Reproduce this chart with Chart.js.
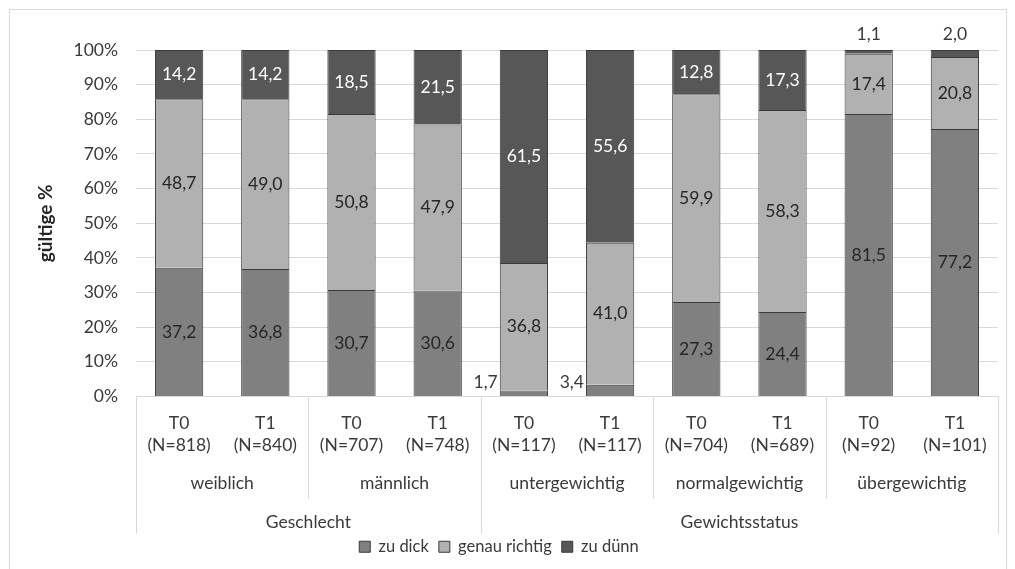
<!DOCTYPE html>
<html>
<head>
<meta charset="utf-8">
<script src="https://cdn.jsdelivr.net/npm/chart.js@4.4.1/dist/chart.umd.min.js"></script>
<style>
    html, body { margin: 0; padding: 0; background: #fff; }
    canvas { display: block; }
</style>
</head>
<body>
<canvas id="chart" width="1015" height="569"></canvas>
<script>
// Kategorien (unterste Achsenebene)
const zeitpunkte = [
    ['T0', '(N=818)'], ['T1', '(N=840)'],
    ['T0', '(N=707)'], ['T1', '(N=748)'],
    ['T0', '(N=117)'], ['T1', '(N=117)'],
    ['T0', '(N=704)'], ['T1', '(N=689)'],
    ['T0', '(N=92)'], ['T1', '(N=101)'],
];
const gruppen = ['weiblich', 'männlich', 'untergewichtig', 'normalgewichtig', 'übergewichtig'];
const oberGruppen = ['Geschlecht', 'Gewichtsstatus'];
const oberGruppenGroesse = [2, 3];

// Werte in gültigen %
const zuDick = [37.2, 36.8, 30.7, 30.6, 1.7, 3.4, 27.3, 24.4, 81.5, 77.2];
const genauRichtig = [48.7, 49.0, 50.8, 47.9, 36.8, 41.0, 59.9, 58.3, 17.4, 20.8];
const zuDuenn = [14.2, 14.2, 18.5, 21.5, 61.5, 55.6, 12.8, 17.3, 1.1, 2.0];

const serien = [
    { label: 'zu dick', werte: zuDick, farbe: '#808080', text: '#262626' },
    { label: 'genau richtig', werte: genauRichtig, farbe: '#b1b1b1', text: '#262626' },
    { label: 'zu dünn', werte: zuDuenn, farbe: '#575757', text: '#ffffff' },
];

// 100%-Stapel wie in Excel
const summen = zuDick.map((v, i) => v + genauRichtig[i] + zuDuenn[i]);

const schrift = 'Lato, "Noto Sans", sans-serif';
Chart.defaults.font.family = schrift;
Chart.defaults.font.size = 17.5;
Chart.defaults.color = '#3a3a3a';

const rahmen = {
    id: 'rahmen',
    beforeDraw(chart) {
        const { ctx } = chart;
        ctx.save();
        ctx.fillStyle = '#fff';
        ctx.fillRect(0, 0, chart.width, chart.height);
        ctx.strokeStyle = '#d9d9d9';
        ctx.lineWidth = 1;
        ctx.strokeRect(9.5, 9.5, 997, 600);
        ctx.restore();
    },
};

const werteBeschriftung = {
    id: 'werteBeschriftung',
    afterDatasetsDraw(chart) {
        const { ctx } = chart;
        ctx.save();
        ctx.font = '17.5px ' + schrift;
        chart.data.datasets.forEach((ds, di) => {
            chart.getDatasetMeta(di).data.forEach((bar, i) => {
                const wert = serien[di].werte[i];
                const text = wert.toFixed(1).replace('.', ',');
                ctx.textBaseline = 'middle';
                if (wert < 5) {
                    ctx.fillStyle = '#3a3a3a';
                    if (di === 0) {
                        ctx.textAlign = 'right';
                        ctx.fillText(text, bar.x - bar.width / 2 - 2, bar.base - 14);
                    } else {
                        ctx.textAlign = 'center';
                        ctx.fillText(text, bar.x, bar.y - 16);
                    }
                    return;
                }
                ctx.fillStyle = serien[di].text;
                ctx.textAlign = 'center';
                ctx.fillText(text, bar.x, (bar.y + bar.base) / 2);
            });
        });
        ctx.restore();
    },
};

const gruppenAchse = {
    id: 'gruppenAchse',
    afterDraw(chart) {
        const { ctx } = chart;
        const x = chart.scales.x;
        const unten = chart.chartArea.bottom;
        const n = zeitpunkte.length;
        const grenze = k => k === 0 ? x.left : k === n ? x.right
            : (x.getPixelForValue(k - 1) + x.getPixelForValue(k)) / 2;

        ctx.save();
        ctx.strokeStyle = '#d9d9d9';
        ctx.lineWidth = 1;
        const langeGrenzen = [0];
        let s = 0;
        oberGruppenGroesse.forEach(g => { s += g * 2; langeGrenzen.push(s); });
        for (let k = 0; k <= n; k += 2) {
            const px = Math.round(grenze(k)) + 0.5;
            const lang = langeGrenzen.includes(k);
            ctx.beginPath();
            ctx.moveTo(px, unten);
            ctx.lineTo(px, unten + (lang ? 137 : 102));
            ctx.stroke();
        }

        ctx.fillStyle = '#3a3a3a';
        ctx.font = '17.5px ' + schrift;
        ctx.textAlign = 'center';
        ctx.textBaseline = 'middle';
        gruppen.forEach((g, j) => {
            ctx.fillText(g, (grenze(2 * j) + grenze(2 * j + 2)) / 2, unten + 87);
        });
        let start = 0;
        oberGruppen.forEach((g, j) => {
            const ende = start + oberGruppenGroesse[j] * 2;
            ctx.fillText(g, (grenze(start) + grenze(ende)) / 2, unten + 126);
            start = ende;
        });
        ctx.restore();
    },
};

new Chart(document.getElementById('chart'), {
    type: 'bar',
    data: {
        labels: zeitpunkte,
        datasets: serien.map(s => ({
            label: s.label,
            data: s.werte.map((v, i) => v / summen[i] * 100),
            backgroundColor: s.farbe,
            borderColor: '#3a3a3a',
            borderWidth: 1,
            barPercentage: 0.56,
            categoryPercentage: 1,
        })),
    },
    options: {
        responsive: false,
        animation: false,
        devicePixelRatio: 1,
        layout: { padding: { top: 50, right: 17, left: 0, bottom: 4 } },
        plugins: {
            legend: {
                position: 'bottom',
                labels: {
                    boxWidth: 11,
                    boxHeight: 11,
                    padding: 10,
                    color: '#3a3a3a',
                    font: { family: schrift, size: 16.5, lineHeight: 1.2 },
                },
            },
            tooltip: { enabled: false },
        },
        scales: {
            x: {
                stacked: true,
                grid: { display: false },
                border: { color: '#d9d9d9' },
                ticks: { maxRotation: 0, autoSkip: false, padding: 8, font: { lineHeight: 1.26 } },
                afterFit: scale => { scale.height = 132; },
            },
            y: {
                stacked: true,
                min: 0,
                max: 100,
                border: { display: false },
                grid: { color: '#d9d9d9', drawTicks: false },
                ticks: { stepSize: 10, padding: 18, callback: v => v + '%' },
                title: {
                    display: true,
                    text: 'gültige %',
                    color: '#262626',
                    font: { weight: 'bold', size: 19 },
                    padding: { top: 34, bottom: 0 },
                },
                afterFit: scale => { scale.width = 136; },
            },
        },
    },
    plugins: [rahmen, werteBeschriftung, gruppenAchse],
});
</script>
</body>
</html>
